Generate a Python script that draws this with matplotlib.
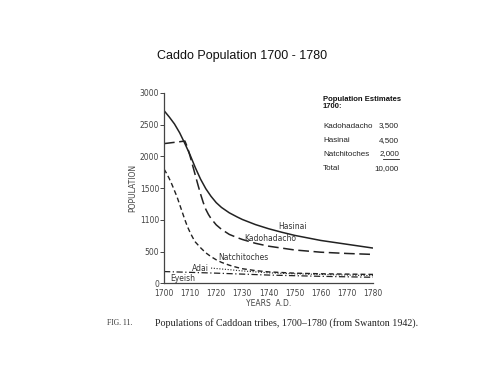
import matplotlib
matplotlib.use("Agg")
import matplotlib.pyplot as plt

# ---- data ----
hasinai_years = [1700, 1702, 1704, 1706, 1708, 1710, 1712, 1714, 1716, 1718, 1720, 1722, 1725,
                 1728, 1730, 1735, 1740, 1745, 1750, 1760, 1770, 1780]
hasinai_pop = [2720, 2620, 2510, 2370, 2200, 2020, 1820, 1640, 1490, 1370, 1270, 1195, 1110,
               1045, 1005, 925, 860, 805, 755, 675, 615, 555]

kado_years = [1700, 1708, 1709, 1710, 1711, 1712, 1713, 1714, 1715, 1716, 1717, 1718, 1720,
              1722, 1725, 1728, 1730, 1735, 1740, 1750, 1760, 1770, 1780]
kado_pop = [2200, 2240, 2140, 2000, 1850, 1700, 1550, 1405, 1275, 1165, 1085, 1020, 920,
            850, 770, 720, 690, 630, 585, 525, 490, 470, 455]

natch_years = [1700, 1701, 1702, 1703, 1704, 1705, 1706, 1707, 1708, 1709, 1710, 1711, 1712,
               1714, 1716, 1718, 1720, 1722, 1725, 1728, 1730, 1735, 1740, 1750, 1760, 1780]
natch_pop = [1800, 1730, 1650, 1560, 1460, 1360, 1240, 1120, 1000, 890, 800, 720, 650,
             560, 480, 420, 370, 330, 285, 250, 230, 200, 180, 160, 150, 140]

adai_years = [1718, 1725, 1730, 1740, 1750, 1760, 1770, 1780]
adai_pop = [240, 215, 195, 165, 150, 140, 130, 120]

eyeish_years = [1700, 1720, 1740, 1760, 1780]
eyeish_pop = [185, 160, 130, 110, 95]

x_ticks = [1700, 1710, 1720, 1730, 1740, 1750, 1760, 1770, 1780]
y_ticks = [0, 500, 1000, 1500, 2000, 2500, 3000]
y_tick_labels = ["0", "500", "1100", "1500", "2000", "2500", "3000"]

est_names = ["Kadohadacho", "Hasinai", "Natchitoches", "Total"]
est_values = ["3,500", "4,500", "2,000", "10,000"]

# ---- figure ----
W, H = 500, 375
fig = plt.figure(figsize=(5, 3.75), dpi=100)
fig.patch.set_facecolor("white")

def fx(px):
    return px / W

def fy(py):
    return 1 - py / H

ax = fig.add_axes([0.328, 0.2445, 0.418, 0.508])
ink = "#222222"

ax.plot(hasinai_years, hasinai_pop, color=ink, lw=1.1, solid_capstyle="butt")
ax.plot(kado_years, kado_pop, color=ink, lw=1.1, linestyle=(0, (7, 3)))
ax.plot(natch_years, natch_pop, color=ink, lw=1.0, linestyle=(0, (3.5, 2.2)))
ax.plot(adai_years, adai_pop, color=ink, lw=0.8, linestyle=(0, (1, 1.5)))
ax.plot(eyeish_years, eyeish_pop, color=ink, lw=0.9, linestyle=(0, (5, 2, 1, 2)))

ax.set_xlim(1700, 1780)
ax.set_ylim(0, 3000)
for s in ["top", "right"]:
    ax.spines[s].set_visible(False)
for s in ["left", "bottom"]:
    ax.spines[s].set_color("#444444")
    ax.spines[s].set_linewidth(0.9)

ax.set_xticks(x_ticks)
ax.set_xticklabels([str(v) for v in x_ticks])
ax.set_yticks(y_ticks)
ax.set_yticklabels(y_tick_labels)
ax.tick_params(axis="y", direction="out", length=3, width=0.7, colors="#444444",
               labelsize=5.5, pad=0.5)
ax.tick_params(axis="x", length=0, labelsize=5.5, colors="#444444", pad=4)
ax.set_ylabel("POPULATION", fontsize=5.5, color="#444444", labelpad=2)
ax.set_xlabel("YEARS  A.D.", fontsize=5.5, color="#444444", labelpad=1)

lab_kw = dict(fontsize=5.5, color="#333333", ha="center", va="center")
ax.text(1749.3, 900, "Hasinai", **lab_kw)
ax.text(1740.5, 705, "Kadohadacho", **lab_kw)
ax.text(1730.2, 410, "Natchitoches", **lab_kw)
ax.text(1713.8, 240, "Adai", **lab_kw)
ax.text(1707.3, 70, "Eyeish", **lab_kw)

# title
fig.text(fx(242), fy(56), "Caddo Population 1700 - 1780", fontsize=9.0,
         family="Liberation Sans", ha="center", va="center", color="#111111")

# estimates box
fig.text(fx(323), fy(103), "Population Estimates\n1700:", fontsize=5.5,
         family="Liberation Sans", weight="bold", ha="left", va="center",
         linespacing=1.1, color="#111111")
row_y = [126, 141, 154, 169]
for name, val, y in zip(est_names, est_values, row_y):
    fig.text(fx(323), fy(y), name, fontsize=5.8, family="Liberation Sans",
             ha="left", va="center", color="#222222")
    fig.text(fx(399), fy(y), val, fontsize=5.8, family="Liberation Sans",
             ha="right", va="center", color="#222222")
# underline for 2,000
fig.add_artist(plt.Line2D([fx(383), fx(399)], [fy(159), fy(159)],
                          color="#222222", lw=0.6))

# caption
fig.text(fx(107), fy(323), "FIG. 11.", fontsize=5.5, family="Liberation Serif",
         ha="left", va="center", color="#333333")
fig.text(fx(155), fy(323), "Populations of Caddoan tribes, 1700\u20131780 (from Swanton 1942).",
         fontsize=7.2, family="Liberation Serif", ha="left", va="center", color="#222222")

fig.savefig("out.png", dpi=100, facecolor="white")
